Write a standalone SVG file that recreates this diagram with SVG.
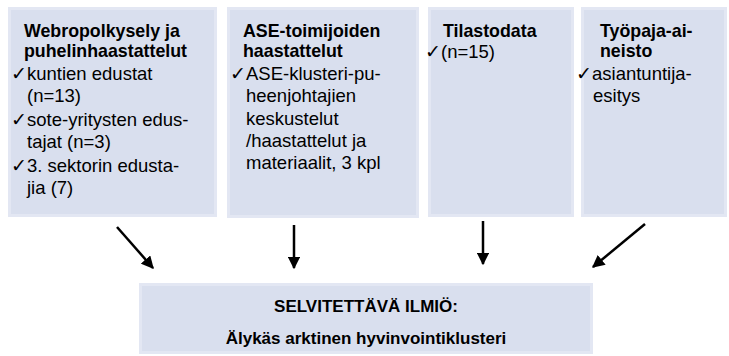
<svg xmlns="http://www.w3.org/2000/svg" width="729" height="356" viewBox="0 0 729 356">
<defs>
<style>
.box{fill:#d9dfee;stroke:#e3e7f3;stroke-width:3}
.t{font-family:"Liberation Sans",Arial,sans-serif;fill:#000}
.h{font-weight:bold;font-size:17.8px}
.b{font-size:18.5px}
.ck{font-family:"DejaVu Sans",sans-serif;font-size:19px;text-anchor:end}
.m{font-weight:bold;font-size:17px}
.arr{stroke:#000;stroke-width:2.5;fill:none;marker-end:url(#ah)}
</style>
<marker id="ah" viewBox="0 0 10 10" refX="9" refY="5" markerWidth="5" markerHeight="5" orient="auto" markerUnits="strokeWidth">
<path d="M0,0 L10,5 L0,10 z" fill="#000"/>
</marker>
</defs>
<rect width="729" height="356" fill="#fff"/>
<g id="node1">
<rect class="box" x="9.5" y="8.5" width="206" height="207"/>
<text class="t h" x="24" y="37">Webropolkysely ja</text>
<text class="t h" x="24" y="57">puhelinhaastattelut</text>
<text class="t ck" x="27" y="80">✓</text>
<text class="t b" x="27" y="80">kuntien edustat</text>
<text class="t b" x="27" y="102">(n=13)</text>
<text class="t ck" x="27" y="126">✓</text>
<text class="t b" x="27" y="126">sote-yritysten edus-</text>
<text class="t b" x="27" y="148">tajat (n=3)</text>
<text class="t ck" x="27" y="172">✓</text>
<text class="t b" x="27" y="172">3. sektorin edusta-</text>
<text class="t b" x="27" y="194">jia (7)</text>
</g>
<g id="node2">
<rect class="box" x="228.5" y="8.5" width="189" height="208"/>
<text class="t h" x="243" y="37">ASE-toimijoiden</text>
<text class="t h" x="243" y="57">haastattelut</text>
<text class="t ck" x="246" y="80">✓</text>
<text class="t b" x="246" y="80">ASE-klusteri-pu-</text>
<text class="t b" x="246" y="102">heenjohtajien</text>
<text class="t b" x="246" y="125">keskustelut</text>
<text class="t b" x="246" y="147">/haastattelut ja</text>
<text class="t b" x="246" y="169">materiaalit, 3 kpl</text>
</g>
<g id="node3">
<rect class="box" x="429.5" y="8.5" width="143" height="207"/>
<text class="t h" x="443" y="37">Tilastodata</text>
<text class="t ck" x="441" y="58">✓</text>
<text class="t b" x="441" y="58">(n=15)</text>
</g>
<g id="node4">
<rect class="box" x="582.5" y="8.5" width="143" height="207"/>
<text class="t h" x="600" y="37">Työpaja-ai-</text>
<text class="t h" x="600" y="57">neisto</text>
<text class="t ck" x="592" y="80">✓</text>
<text class="t b" x="592" y="80">asiantuntija-</text>
<text class="t b" x="593" y="102">esitys</text>
</g>
<g id="node5">
<rect class="box" x="140.5" y="284.5" width="451" height="68"/>
<text class="t m" x="366" y="312" text-anchor="middle">SELVITETTÄVÄ ILMIÖ:</text>
<text class="t m" x="366" y="344" text-anchor="middle">Älykäs arktinen hyvinvointiklusteri</text>
</g>
<g id="connectors">
<line class="arr" x1="117" y1="227" x2="153" y2="268"/>
<line class="arr" x1="294" y1="225" x2="294" y2="268"/>
<line class="arr" x1="483" y1="221" x2="483" y2="264"/>
<line class="arr" x1="645" y1="224" x2="593" y2="267"/>
</g>
</svg>
